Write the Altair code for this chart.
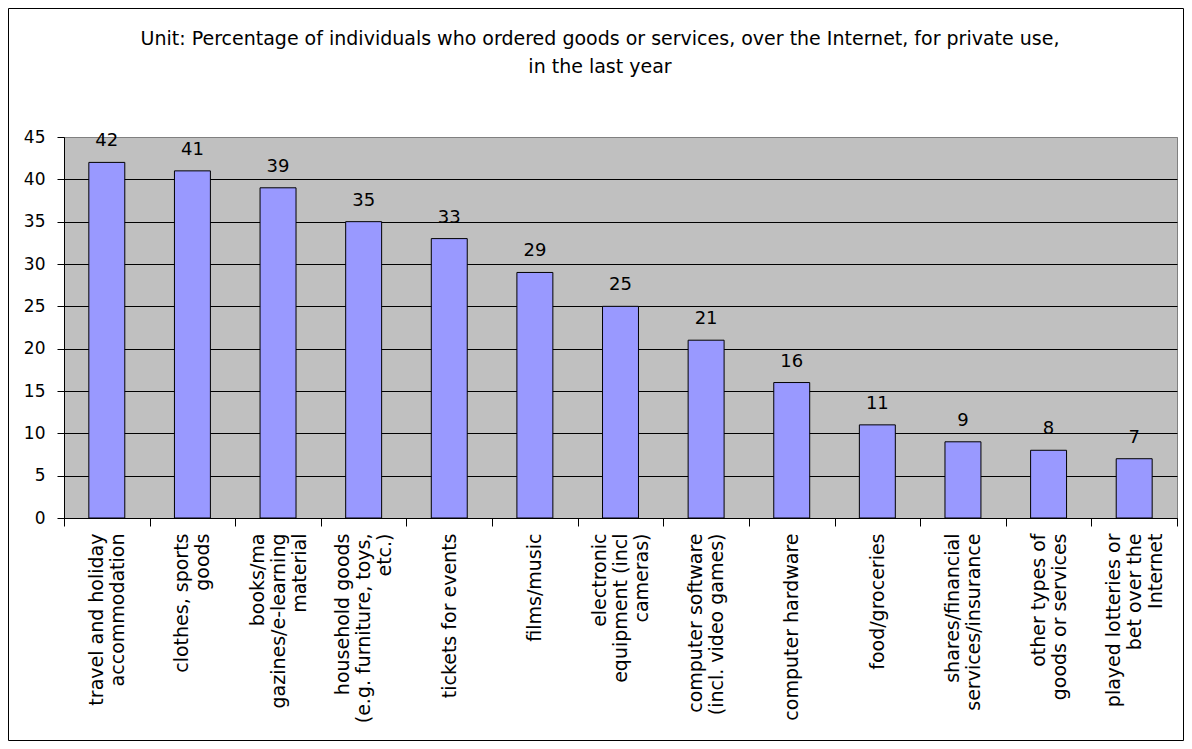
import altair as alt
import pandas as pd

categories = [
    "travel and holiday\naccommodation",
    "clothes, sports\ngoods",
    "books/ma\ngazines/e-learning\nmaterial",
    "household goods\n(e.g. furniture, toys,\netc.)",
    "tickets for events",
    "films/music",
    "electronic\nequipment (incl\ncameras)",
    "computer software\n(incl. video games)",
    "computer hardware",
    "food/groceries",
    "shares/financial\nservices/insurance",
    "other types of\ngoods or services",
    "played lotteries or\nbet over the\nInternet",
]
values = [42, 41, 39, 35, 33, 29, 25, 21, 16, 11, 9, 8, 7]
y_ticks = [0, 5, 10, 15, 20, 25, 30, 35, 40, 45]
title_lines = [
    "Unit: Percentage of individuals who ordered goods or services, over the Internet, for private use,",
    "in the last year",
]

df = pd.DataFrame({"category": categories, "value": values})

FONT = "DejaVu Sans"
W, H = 1113, 381
PAD = {"left": 56, "top": 129, "right": 7, "bottom": 223}
LH = 21

x_enc = alt.X(
    "category:N",
    sort=categories,
    scale=alt.Scale(paddingInner=0, paddingOuter=0),
    axis=alt.Axis(
        title=None,
        labelAngle=-90,
        labelAlign="right",
        labelBaseline="middle",
        labelExpr="split(datum.label, '\\n')",
        labelOffset={"expr": f"-(length(split(datum.label, '\\n')) - 1) * {LH / 2}"},
        labelFont=FONT,
        labelFontSize=19,
        labelLineHeight=LH,
        labelColor="black",
        labelPadding=7,
        labelLimit=400,
        tickBand="extent",
        tickSize=8,
        tickColor="black",
        domainColor="black",
        grid=False,
    ),
)
y_enc = alt.Y(
    "value:Q",
    scale=alt.Scale(domain=[0, 45], nice=False),
    axis=alt.Axis(
        title=None,
        values=y_ticks,
        labelFont=FONT,
        labelFontSize=17,
        labelColor="black",
        labelPadding=12,
        tickSize=7,
        tickColor="black",
        domainColor="black",
        gridColor={"condition": {"test": "datum.value === 45", "value": "#808080"}, "value": "black"},
        gridOpacity=1,
    ),
)

one = pd.DataFrame({"f": [0]})

frame = alt.Chart(one).mark_rect(
    fillOpacity=0, stroke="black", strokeWidth=1
).encode(
    x=alt.value(-PAD["left"] + 0.5),
    x2=alt.value(W + PAD["right"] - 0.5),
    y=alt.value(-PAD["top"] + 0.5),
    y2=alt.value(H + PAD["bottom"] - 0.5),
)

title = alt.Chart(one).mark_text(
    text=title_lines, font=FONT, fontSize=19, color="black",
    align="center", baseline="alphabetic", lineHeight=28,
).encode(x=alt.value(536), y=alt.value(-92))

bars = alt.Chart(df).mark_bar(
    color="#9999FF", stroke="black", strokeWidth=1, width={"band": 0.42}
).encode(x=x_enc, y=y_enc)

labels = alt.Chart(df).mark_text(
    font=FONT, fontSize=18, color="black", dy=-16, baseline="alphabetic"
).encode(
    x=alt.X("category:N", sort=categories),
    y="value:Q",
    text="value:Q",
)

chart = alt.layer(frame, title, bars, labels).properties(
    width=W,
    height=H,
    autosize="none",
    padding=PAD,
).configure_view(fill="#C0C0C0", stroke="#808080")

chart.save("out.html", embed_options={"renderer": "svg", "actions": False})
